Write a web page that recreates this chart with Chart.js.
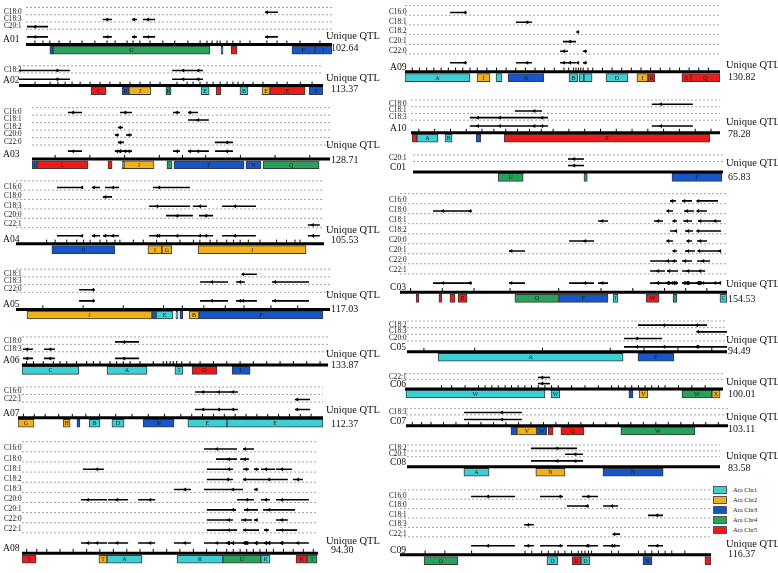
<!DOCTYPE html>
<html>
<head>
<meta charset="utf-8">
<script src="https://cdn.jsdelivr.net/npm/chart.js@4.4.1/dist/chart.umd.min.js"></script>
<style>
  html, body { margin: 0; padding: 0; background: #fff; }
  #wrap { position: relative; width: 778px; height: 573px; overflow: hidden; }
  #wrap canvas { position: absolute; }
  #legend { position: absolute; left: 713px; top: 485px; font: 6.5px "Liberation Serif", serif; color: #222; }
  #legend .row { position: relative; height: 10px; }
  #legend .box { position: absolute; left: 0; top: 1px; width: 12px; height: 6px; border: 1px solid #555; }
  #legend .txt { position: absolute; left: 20px; top: 0; line-height: 9px; white-space: nowrap; }
</style>
</head>
<body>
<div id="wrap"><div id="legend"></div></div>
<script>
// Arabidopsis chromosome colours for the synteny blocks
const araColors = ['#3dcfd6', '#f2b01e', '#1656c8', '#26a25a', '#ee1a1a'];
const araLabels = ['Ara Chr1', 'Ara Chr2', 'Ara Chr3', 'Ara Chr4', 'Ara Chr5'];

const chromNames = ['A01', 'A02', 'A03', 'A04', 'A05', 'A06', 'A07', 'A08',
  'A09', 'A10', 'C01', 'C03', 'C05', 'C06', 'C07', 'C08', 'C09'];
const chromLengths = [102.64, 113.37, 128.71, 105.53, 117.03, 133.87, 112.37, 94.30,
  130.82, 78.28, 65.83, 154.53, 94.49, 100.01, 103.11, 83.58, 116.37];

// qtl rows: [trait row, start cM, end cM, peak cM]
// blocks: [start cM, end cM, Ara chromosome, block letter]
const traitsA01 = ['C18:0', 'C18:3', 'C20:1'];
const qtlA01 = [[0, 80.2, 84.5, 80.8], [1, 25.8, 28.8, 27.2], [1, 35.6, 37.2, 36.2], [1, 39.2, 43.3, 40.9], [2, 0.3, 7.4, 3.0]];
const blocksA01 = [[8.0, 9.1, 3, ''], [9.1, 61.7, 4, 'U'], [65.4, 66.1, 3, ''], [68.8, 70.8, 5, ''], [89.2, 96.9, 3, 'F'], [96.9, 102.6, 3, 'I']];
const markersA01 = [3.0, 5.7, 8.0, 11.1, 14.8, 18.8, 23.1, 27.2, 29.9, 33.9, 35.9, 38.2, 41.6, 45.9, 49.9, 54.3, 58.4, 60.7, 62.4, 64.1, 65.1, 67.4, 69.4, 71.8, 75.1, 80.8, 84.2, 87.5, 91.9, 98.6];

const traitsA02 = ['C18:3'];
const qtlA02 = [[0, 0, 19.0, 14.2], [0, 57.1, 68.6, 61.2], [0, 61.9, 68.6, 66.8]];
const blocksA02 = [[26.9, 32.5, 5, 'C'], [38.4, 41.0, 3, 'R'], [41.0, 49.2, 2, 'J'], [54.8, 56.7, 4, 'R'], [67.9, 70.9, 1, 'E'], [73.5, 75.3, 5, ''], [82.4, 85.4, 1, 'B'], [90.6, 93.6, 2, 'E'], [93.6, 106.7, 5, 'E'], [108.2, 113.4, 3, 'F']];
const markersA02 = [6.0, 11.6, 14.5, 17.2, 19.8, 22.8, 26.5, 30.2, 33.9, 37.7, 41.4, 45.1, 48.9, 52.6, 58.9, 62.7, 64.9, 67.5, 70.1, 72.4, 75.0, 77.6, 79.8, 81.7, 83.6, 87.3, 91.0, 96.2, 100.0, 104.9, 109.3];

const traitsA03 = ['C16:0', 'C18:1', 'C18:2', 'C20:0', 'C22:0'];
const qtlA03 = [[0, 15.5, 21.6, 17.7], [0, 38.0, 43.2, 40.2], [0, 60.9, 63.9, 62.6], [0, 67.4, 71.7, 68.2],
  [1, 67.4, 76.4, 71.7], [2, 37.1, 39.3, 38.0], [3, 35.8, 37.6, 36.7], [3, 40.6, 43.2, 41.9],
  [4, 37.1, 39.7, 38.0], [4, 79.0, 86.8, 84.2]];
const blocksA03 = [[0, 2.2, 3, 'I'], [2.2, 24.2, 5, 'L'], [32.8, 34.6, 5, ''], [38.9, 39.7, 1, ''], [39.7, 52.7, 2, 'J'], [58.3, 60.5, 4, ''], [61.3, 91.6, 3, 'F'], [92.4, 98.9, 3, 'N'], [99.8, 124.0, 4, 'Q']];
const markersA03 = [10, 25, 40, 55, 65, 75, 90, 105, 120];

const traitsA04 = ['C16:0', 'C18:0', 'C18:3', 'C20:0', 'C22:1'];
const qtlA04 = [[0, 14.0, 23.0, 22.6], [0, 26.0, 28.8, 26.7], [0, 30.5, 35.3, 33.2], [0, 46.9, 59.6, 49.0],
  [1, 29.8, 32.9, 30.5], [2, 45.6, 59.6, 48.3], [2, 60.6, 65.4, 63.0], [2, 70.6, 82.2, 75.0],
  [3, 51.4, 60.6, 55.2], [3, 62.7, 67.5, 65.1], [4, 100.0, 104.1, 101.7]];
const blocksA04 = [[12.3, 33.9, 3, 'N'], [45.2, 50.0, 2, 'I'], [50.0, 53.4, 2, 'G'], [62.4, 99.4, 2, 'J']];
const markersA04 = [10.5, 13.4, 17.4, 20.8, 23.1, 25.4, 28.8, 31.1, 33.9, 35.6, 40.2, 43.6, 48.2, 51.6, 56.2, 60.8, 63.0, 66.5, 68.8, 72.2, 74.5, 76.8, 79.6, 83.6, 89.3, 92.7, 95.6, 97.3];

const traitsA05 = ['C18:1', 'C18:3', 'C22:0'];
const qtlA05 = [[0, 84.6, 89.8, 84.6], [1, 68.6, 79.0, 73.0], [1, 82.0, 85.3, 83.5], [1, 95.4, 109.2, 96.5], [2, 23.5, 29.4, 28.7]];
const blocksA05 = [[4.1, 50.7, 2, 'J'], [50.7, 52.2, 3, ''], [52.2, 58.5, 1, 'E'], [59.6, 60.4, 1, ''], [61.1, 62.2, 3, ''], [64.5, 68.2, 2, 'B'], [68.2, 114.4, 3, 'F']];
const markersA05 = [10, 25, 40, 55, 62, 70, 78, 85, 95, 105];

const traitsA06 = ['C18:0', 'C18:3'];
const qtlA06 = [[0, 40.7, 51.2, 44.6], [1, 0.4, 4.8, 2.2], [1, 9.6, 14.4, 12.3]];
const blocksA06 = [[0, 24.9, 1, 'C'], [37.2, 54.7, 1, 'A'], [66.9, 70.4, 1, 'I'], [74.4, 85.3, 5, 'O'], [91.9, 99.8, 3, 'L']];
const markersA06 = [2.0, 5.0, 9.3, 13.7, 16.6, 19.6, 23.9, 28.3, 31.2, 34.1, 38.5, 41.4, 44.3, 47.3, 51.6, 57.4, 61.8, 63.3, 64.8, 66.2, 67.7, 69.9, 73.5, 77.9, 83.7, 89.6, 95.4, 101.2, 107.1, 112.9, 118.7, 124.6, 130.4];

const traitsA07 = ['C16:0', 'C22:1'];
const qtlA07 = [[0, 65.2, 72.9, 68.2], [0, 72.6, 81.0, 74.0], [0, 76.5, 81.0, 79.2], [1, 102.0, 107.6, 102.8]];
const blocksA07 = [[0, 5.9, 2, 'G'], [16.6, 19.2, 2, 'H'], [21.7, 22.8, 3, ''], [26.2, 30.2, 1, 'B'], [34.6, 39.1, 1, 'D'], [46.1, 57.5, 3, 'N'], [62.6, 77.0, 1, 'E'], [77.0, 112.4, 1, 'E']];
const markersA07 = [2, 6, 10, 15, 20, 25, 30, 36, 42, 48, 54, 60, 64, 68, 72, 76, 80, 84, 88, 92, 96, 100, 104, 108];

const traitsA08 = ['C16:0', 'C18:0', 'C18:1', 'C18:2', 'C18:3', 'C20:0', 'C20:1', 'C22:0', 'C22:1'];
const qtlA08 = [[0, 58.0, 68.5, 62.1], [0, 70.4, 73.9, 71.0],
  [1, 61.8, 68.5, 65.9], [1, 69.5, 72.3, 71.0],
  [2, 19.4, 26.1, 23.9], [2, 58.9, 67.2, 65.9], [2, 70.4, 72.3, 71.4], [2, 73.9, 75.5, 74.6], [2, 76.1, 80.6, 77.7], [2, 80.9, 86.0, 82.8],
  [3, 58.9, 67.2, 65.6], [3, 70.4, 75.8, 71.0], [3, 75.8, 84.7, 78.7], [3, 86.3, 89.5, 87.9],
  [4, 48.4, 53.8, 51.9], [4, 58.0, 70.4, 67.2], [4, 73.9, 75.2, 74.6],
  [5, 18.8, 27.1, 21.0], [5, 27.4, 33.8, 30.3], [5, 37.0, 42.4, 40.8], [5, 68.5, 73.9, 71.7], [5, 76.1, 79.0, 77.7], [5, 80.9, 91.4, 82.8],
  [6, 58.9, 68.2, 67.2], [6, 70.7, 75.2, 71.7], [6, 76.8, 87.0, 78.7],
  [7, 58.9, 67.2, 65.9], [7, 69.8, 73.3, 71.0], [7, 73.9, 75.2, 74.6], [7, 80.9, 84.7, 82.8],
  [8, 58.9, 68.5, 65.9], [8, 70.4, 75.5, 71.0], [8, 77.1, 78.7, 77.7], [8, 80.9, 87.6, 82.8]];
const blocksA08 = [[0, 4.5, 5, 'S'], [24.5, 27.1, 2, 'T'], [27.1, 38.2, 1, 'A'], [49.4, 64.0, 1, 'R'], [64.0, 76.1, 4, 'U'], [76.1, 79.0, 1, 'R'], [87.3, 90.8, 5, 'R'], [90.8, 94.0, 4, 'T']];
const markersA08 = [1.5, 4.7, 7.9, 12.1, 16.3, 20.6, 24.8, 29.1, 33.4, 37.6, 41.8, 46.1, 50.3, 54.6, 58.8, 62.0, 65.2, 67.3, 69.5, 71.6, 73.7, 75.8, 77.9, 80.1, 83.3, 86.4, 89.6, 92.8];

const traitsA09 = ['C16:0', 'C18:1', 'C18:2', 'C20:1', 'C22:0'];
const qtlA09 = [[0, 18.7, 25.7, 24.9], [1, 46.1, 52.7, 50.7], [2, 71.4, 72.3, 71.8], [3, 65.6, 71.0, 68.5], [4, 64.4, 67.7, 66.0], [4, 73.9, 75.6, 74.8]];
const blocksA09 = [[0, 27.0, 1, 'A'], [29.9, 35.3, 2, 'I'], [37.8, 40.3, 1, ''], [42.8, 57.7, 3, 'N'], [68.1, 71.8, 1, 'B'], [72.3, 74.3, 1, ''], [74.3, 77.7, 1, ''], [83.5, 92.6, 1, 'D'], [96.3, 100.9, 2, 'I'], [100.9, 103.8, 5, 'R'], [115.0, 118.8, 5, 'X'], [118.8, 130.8, 5, 'Q']];
const markersA09 = [3, 6, 9, 12, 15, 18, 21, 24, 27, 30, 34, 38, 42, 46, 50, 54, 58, 62, 66, 68, 70, 71, 72, 73, 74, 76, 78, 82, 86, 90, 94, 98, 102, 106, 110, 114, 118, 122, 126];

const traitsA10 = ['C18:0', 'C18:1', 'C18:3'];
const qtlA10 = [[0, 61.0, 71.4, 63.3], [1, 26.3, 33.2, 31.2], [2, 14.9, 24.0, 16.9], [2, 20.0, 30.0, 22.5], [2, 28.0, 34.7, 33.2]];
const blocksA10 = [[0.3, 1.5, 5, ''], [1.5, 6.8, 1, 'A'], [8.6, 10.4, 1, 'B'], [16.5, 17.7, 3, ''], [23.6, 75.7, 5, 'X']];
const markersA10 = [2, 6, 10, 14, 18, 21, 24, 27, 30, 33, 36, 40, 44, 48, 52, 56, 60, 64, 68, 72, 76];

const traitsC01 = ['C20:1'];
const qtlC01 = [[0, 32.9, 36.3, 34.2]];
const blocksC01 = [[18.1, 23.4, 4, 'U'], [36.3, 37.0, 4, ''], [55.0, 65.6, 3, 'F']];
const markersC01 = [];

const traitsC03 = ['C16:0', 'C18:0', 'C18:1', 'C18:2', 'C20:0', 'C20:1', 'C22:0', 'C22:1'];
const qtlC03 = [[0, 127.6, 130.4, 128.5], [0, 133.3, 138.0, 134.2], [0, 140.4, 150.3, 140.8],
  [1, 15.6, 27.4, 20.3], [1, 26.0, 34.0, 33.1], [1, 126.2, 129.0, 126.6], [1, 134.2, 138.9, 135.6], [1, 140.4, 145.1, 140.8],
  [2, 93.6, 98.3, 95.5], [2, 120.0, 124.3, 121.9], [2, 129.0, 130.9, 129.5], [2, 133.8, 138.0, 135.6], [2, 140.8, 145.6, 141.8], [2, 145.6, 151.7, 148.9],
  [3, 127.6, 130.9, 130.4], [3, 134.7, 138.5, 136.1], [3, 140.4, 151.7, 140.8],
  [4, 79.9, 91.7, 87.4], [4, 126.2, 129.0, 126.6], [4, 135.6, 138.0, 136.1], [4, 140.4, 145.1, 141.8],
  [5, 51.5, 59.1, 52.5], [5, 129.0, 130.9, 129.5], [5, 134.7, 139.4, 136.1], [5, 140.8, 146.0, 141.3], [5, 144.0, 151.7, 151.2],
  [6, 118.2, 127.5, 126.6], [6, 126.0, 130.9, 129.5], [6, 133.3, 138.0, 134.7], [6, 140.4, 146.5, 143.2],
  [7, 118.2, 125.2, 121.9], [7, 126.2, 131.4, 127.1], [7, 133.3, 138.5, 136.1], [7, 138.5, 144.2, 141.8]];
const blocksC03 = [[7.6, 9.0, 5, ''], [18.4, 19.8, 5, ''], [23.6, 26.0, 5, ''], [27.4, 31.7, 5, 'R'], [54.3, 75.1, 4, 'O'], [75.1, 98.3, 3, 'F'], [100.7, 103.0, 1, 'I'], [116.3, 122.4, 5, 'W'], [129.0, 130.9, 4, ''], [151.2, 154.5, 1, 'C']];
const markersC03 = [5, 20, 35, 52, 75, 95, 110, 125, 135, 145];

const traitsC05 = ['C18:2', 'C18:3', 'C20:0'];
const qtlC05 = [[0, 68.2, 83.6, 75.9], [0, 80.6, 88.6, 85.6], [1, 85.9, 94.5, 85.9], [2, 64.1, 75.3, 67.9]];
const blocksC05 = [[9.2, 63.8, 1, 'A'], [68.2, 78.8, 3, 'F']];
const markersC05 = [5, 20, 40, 60, 70, 80, 90];

const traitsC06 = ['C22:1'];
const qtlC06 = [[0, 41.8, 45.6, 43.1]];
const blocksC06 = [[0.3, 44.0, 1, 'W'], [45.9, 48.7, 1, 'W'], [70.4, 71.7, 3, ''], [73.6, 76.4, 2, 'V'], [87.1, 96.5, 4, 'W'], [96.5, 99.1, 2, 'X']];
const markersC06 = [11.5, 14.7, 18.9, 23.1, 25.2, 27.3, 29.3, 31.5, 33.5, 35.6, 37.7, 39.8, 41.9, 44.0, 46.1, 48.2, 52.4, 56.6, 60.8, 65.0, 67.1, 69.2, 71.3, 73.4, 75.5, 77.6, 79.7, 81.8, 86.0, 90.2, 94.4];

const traitsC07 = ['C18:3'];
const qtlC07 = [[0, 18.6, 37.1, 30.7]];
const blocksC07 = [[33.6, 35.5, 3, ''], [35.5, 41.9, 2, 'V'], [41.9, 45.1, 3, 'W'], [45.5, 47.1, 5, ''], [49.6, 57.0, 5, 'Q'], [68.8, 92.5, 4, 'W']];
const markersC07 = [2, 5, 8, 12, 16, 20, 24, 28, 32, 36, 40, 44, 48, 52, 56, 60, 64, 68, 72, 76, 80, 84, 88, 92, 96, 100];

const traitsC08 = ['C18:2', 'C20:1'];
const qtlC08 = [[0, 33.1, 45.4, 40.1], [1, 42.2, 47.0, 44.9]];
const blocksC08 = [[15.2, 21.9, 1, 'A'], [34.4, 42.2, 2, 'N'], [52.3, 68.4, 3, 'N']];
const markersC08 = [];

const traitsC09 = ['C16:0', 'C18:0', 'C18:1', 'C18:3', 'C22:1'];
const qtlC09 = [[0, 26.6, 43.0, 32.9], [0, 52.4, 61.0, 59.9], [0, 68.1, 74.1, 70.4],
  [1, 62.5, 70.7, 70.0], [1, 76.0, 81.6, 79.3], [2, 92.8, 98.4, 96.2], [3, 46.4, 50.1, 47.9], [4, 79.7, 82.3, 80.1]];
const blocksC09 = [[9.0, 21.7, 4, 'O'], [55.0, 59.1, 1, 'D'], [64.4, 67.7, 5, 'R'], [67.7, 71.1, 1, 'D'], [90.9, 94.3, 3, 'N'], [114.1, 116.4, 5, '']];
const markersC09 = [9.4, 16.8, 26.8, 46.8, 49.3, 53.0, 55.5, 58.0, 59.2, 61.7, 64.2, 66.7, 68.0, 69.2, 70.5, 71.7, 79.2, 81.7, 89.2, 91.7, 94.2, 96.7, 99.2, 101.7, 106.6];

const chromData = {
  A01: [traitsA01, qtlA01, blocksA01, markersA01], A02: [traitsA02, qtlA02, blocksA02, markersA02],
  A03: [traitsA03, qtlA03, blocksA03, markersA03], A04: [traitsA04, qtlA04, blocksA04, markersA04],
  A05: [traitsA05, qtlA05, blocksA05, markersA05], A06: [traitsA06, qtlA06, blocksA06, markersA06],
  A07: [traitsA07, qtlA07, blocksA07, markersA07], A08: [traitsA08, qtlA08, blocksA08, markersA08],
  A09: [traitsA09, qtlA09, blocksA09, markersA09], A10: [traitsA10, qtlA10, blocksA10, markersA10],
  C01: [traitsC01, qtlC01, blocksC01, markersC01], C03: [traitsC03, qtlC03, blocksC03, markersC03],
  C05: [traitsC05, qtlC05, blocksC05, markersC05], C06: [traitsC06, qtlC06, blocksC06, markersC06],
  C07: [traitsC07, qtlC07, blocksC07, markersC07], C08: [traitsC08, qtlC08, blocksC08, markersC08],
  C09: [traitsC09, qtlC09, blocksC09, markersC09]
};

// page layout: [column, first trait y, row pitch, unique row y, chromosome y, line x0, line x1, "Unique QTL" dy, length dy]
const layout = {
  A01: [0, 9, 8.5, 38, 47, 26, 332, -8, 4],
  A02: [0, 68, 9, 79, 87, 19, 323, -7, 4],
  A03: [0, 109, 8.5, 153, 162, 32, 330, -14, 1],
  A04: [0, 184, 10.5, 238, 247, 16, 324, -14, -3],
  A05: [0, 271, 9, 302, 312, 16, 330, -14, 0],
  A06: [0, 339, 9, 359, 367, 22, 328, -11, 0],
  A07: [0, 389, 9, 410, 420, 18, 323, -8, 7],
  A08: [0, 445, 10.9, 546, 557, 22, 318, -12, -3],
  A09: [1, 9, 10.8, 65, 75, 405, 720, -7, 6],
  A10: [1, 101, 8, 127, 135, 411, 720, -10, 2],
  C01: [1, 157, 8, 165, 173, 413, 723, -9, 5],
  C03: [1, 197, 10.85, 286, 296, 400, 727, -8, 7],
  C05: [1, 322, 8, 348, 354, 407, 727, -12, 0],
  C06: [1, 375, 8, 383, 390, 405, 723, -7, 5],
  C07: [1, 410, 8, 419, 427, 406, 728, -9, 4],
  C08: [1, 446, 7, 461, 468, 407, 720, -11, 2],
  C09: [1, 493, 10.5, 548, 558, 400, 711, -11, 0]
};
const colLeft = [0, 384];
const colWidth = [390, 394];
const chromLabelX = [3, 6];
const traitLabelX = [4, 5];
const uniqueTextX = [326, 342];
const lengthTextX = [331, 344];

const SERIF = '"Liberation Serif", "Times New Roman", serif';
const wrap = document.getElementById('wrap');

function drawChromosome(name, len) {
  const [traits, qtl, blocks, markers] = chromData[name];
  const [col, firstY, pitch, uniqueY, lineY, x0, x1, uDy, lDy] = layout[name];
  const left = colLeft[col], width = colWidth[col];
  const top = Math.floor(firstY - pitch - 3);
  const height = Math.ceil(lineY + 17) - top;
  const row = py => (py - firstY) / pitch;

  const canvas = document.createElement('canvas');
  canvas.width = width;
  canvas.height = height;
  canvas.style.left = left + 'px';
  canvas.style.top = top + 'px';
  wrap.appendChild(canvas);

  const uRow = row(uniqueY), lRow = row(lineY);

  const dashed = [];
  for (let i = -1; i < traits.length; i++) {
    const r = i + 3 / pitch;
    dashed.push({x: 0, y: r}, {x: len, y: r}, {x: len, y: null});
  }
  const segs = [], uSegs = [], peaks = [];
  qtl.forEach(([r, s, e, p]) => {
    segs.push({x: s, y: r}, {x: e, y: r}, {x: e, y: null});
    uSegs.push({x: s, y: uRow}, {x: e, y: uRow}, {x: e, y: null});
    peaks.push({x: p, y: r}, {x: p, y: uRow});
  });

  const letterPlugin = {
    id: 'blockLetters',
    afterDatasetsDraw(chart) {
      const ctx = chart.ctx;
      const meta = chart.getDatasetMeta(6);
      ctx.save();
      ctx.font = '6px ' + SERIF;
      ctx.fillStyle = '#1a1a1a';
      ctx.textAlign = 'center';
      ctx.textBaseline = 'middle';
      meta.data.forEach((el, j) => {
        const letter = blocks[j][3];
        if (!letter) return;
        ctx.fillText(letter, (el.x + el.base) / 2, el.y + 0.5);
      });
      ctx.restore();
    },
    afterDraw(chart) {
      const {ctx, scales: {y}} = chart;
      ctx.save();
      ctx.fillStyle = '#111';
      ctx.textBaseline = 'middle';
      ctx.font = '9px ' + SERIF;
      traits.forEach((t, i) => {
        ctx.save();
        ctx.translate(traitLabelX[col], y.getPixelForValue(i) - 1);
        ctx.scale(0.8, 1);
        ctx.fillText(t, 0, 0);
        ctx.restore();
      });
      const ly = y.getPixelForValue(lRow);
      ctx.font = '11px ' + SERIF;
      ctx.save();
      ctx.translate(chromLabelX[col], ly - 5);
      ctx.scale(0.88, 1);
      ctx.fillText(name, 0, 0);
      ctx.restore();
      ctx.font = '10.5px ' + SERIF;
      ctx.fillText('Unique QTL', uniqueTextX[col], ly + uDy);
      ctx.font = '10px ' + SERIF;
      ctx.fillText(len.toFixed(2), lengthTextX[col], ly + lDy);
      ctx.restore();
    }
  };

  new Chart(canvas, {
    type: 'scatter',
    data: {
      datasets: [
        {data: dashed, showLine: true, borderColor: '#8a8a8a', borderWidth: 0.8, borderDash: [2, 2], pointRadius: 0},
        {data: segs, showLine: true, borderColor: '#000', borderWidth: 1.6, pointRadius: 0},
        {data: uSegs, showLine: true, borderColor: '#000', borderWidth: 1.6, pointRadius: 0},
        {data: peaks, pointStyle: 'triangle', rotation: -90, pointRadius: 2.3,
          backgroundColor: '#000', borderColor: '#000', borderWidth: 0},
        {data: [{x: 0, y: lRow}, {x: len, y: lRow}], showLine: true, borderColor: '#000', borderWidth: 3, pointRadius: 0},
        {data: markers.map(m => ({x: m, y: row(lineY - 3)})), pointStyle: 'line', rotation: 90,
          pointRadius: 1.5, borderColor: '#000', borderWidth: 1},
        {type: 'bar', indexAxis: 'y',
          data: blocks.map(b => ({x: [b[0], Math.min(b[1], len)], y: row(lineY + 6.5)})),
          backgroundColor: blocks.map(b => araColors[b[2] - 1]),
          borderColor: '#3a3a3a', borderWidth: 1, borderSkipped: false, barThickness: 8}
      ]
    },
    options: {
      responsive: false,
      animation: false,
      events: [],
      layout: {padding: {left: x0 - left, right: left + width - x1, top: 0, bottom: 0}},
      plugins: {legend: {display: false}, tooltip: {enabled: false}},
      scales: {
        x: {type: 'linear', min: 0, max: len, display: false, offset: false},
        y: {type: 'linear', min: row(top), max: row(top + height), reverse: true, display: false, offset: false,
          grid: {offset: false}}
      }
    },
    plugins: [letterPlugin]
  });
}

chromNames.forEach((name, k) => drawChromosome(name, chromLengths[k]));

// legend for the Arabidopsis chromosomes
const legend = document.getElementById('legend');
araLabels.forEach((lab, i) => {
  const r = document.createElement('div');
  r.className = 'row';
  r.innerHTML = '<span class="box" style="background:' + araColors[i] + '"></span><span class="txt">' + lab + '</span>';
  legend.appendChild(r);
});
</script>
</body>
</html>
